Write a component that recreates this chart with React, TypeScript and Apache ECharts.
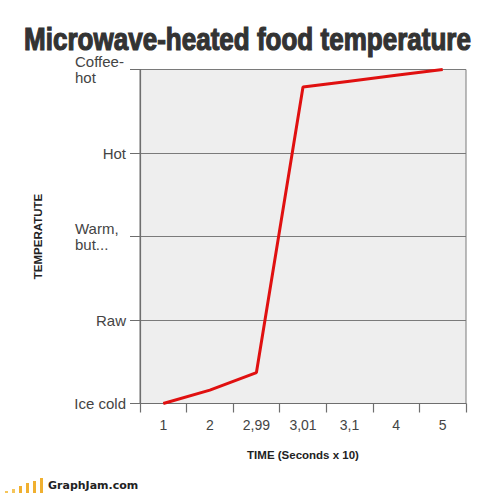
import React, { useEffect, useRef } from "react";
import * as echarts from "echarts";

const timeLabels = ["1", "2", "2,99", "3,01", "3,1", "4", "5"];
const tempLabels = ["Ice cold", "Raw", "Warm,\nbut...", "Hot", "Coffee-\nhot"];
const tempValues = [0, 0.16, 0.37, 3.79, 3.86, 3.93, 4.0];

const footerBars = [2, 4, 7, 10, 12, 15];

export default function App() {
  const ref = useRef<HTMLDivElement>(null);
  useEffect(() => {
    if (!ref.current) return;
    const chart = echarts.init(ref.current, null, { renderer: "svg" });
    const axisGray = "#6e6e6e";
    const textGray = "#444";
    const barGraphics: any[] = footerBars.map((h, i) => ({
      type: "rect",
      shape: { x: 5 + i * 7, y: 493 - h, width: 3, height: h },
      style: { fill: i < 2 ? "#f5c55a" : "#f0b030" },
    }));
    chart.setOption({
      animation: false,
      backgroundColor: "#ffffff",
      grid: {
        left: 140,
        right: 34,
        top: 69.5,
        bottom: 89.5,
        show: true,
        backgroundColor: "#eeeeee",
        borderColor: "#7a7a7a",
        borderWidth: 1,
      },
      xAxis: {
        type: "category",
        data: timeLabels,
        boundaryGap: true,
        name: "TIME (Seconds x 10)",
        nameLocation: "middle",
        nameGap: 45,
        nameTextStyle: {
          fontFamily: "'Liberation Sans', Arial, sans-serif",
          fontWeight: "bold",
          fontSize: 11.5,
          color: "#222",
        },
        axisLine: { show: true, lineStyle: { color: axisGray, width: 1.2 } },
        axisTick: { show: true, length: 9, lineStyle: { color: axisGray, width: 1.2 } },
        axisLabel: {
          margin: 14,
          fontFamily: "'Liberation Sans', Arial, sans-serif",
          fontSize: 14,
          color: textGray,
        },
        splitLine: { show: false },
      },
      yAxis: {
        type: "value",
        min: 0,
        max: 4,
        interval: 1,
        name: "TEMPERATUTE",
        nameLocation: "middle",
        nameGap: 96,
        nameRotate: 90,
        nameTextStyle: {
          fontFamily: "'Liberation Sans', Arial, sans-serif",
          fontWeight: "bold",
          fontSize: 11.5,
          color: "#222",
        },
        axisLine: { show: true, lineStyle: { color: axisGray, width: 1.2 } },
        axisTick: { show: true, length: 10, lineStyle: { color: axisGray, width: 1 } },
        splitLine: { show: true, lineStyle: { color: "#7a7a7a", width: 1 } },
        axisLabel: {
          margin: 14,
          fontFamily: "'Liberation Sans', Arial, sans-serif",
          fontSize: 15,
          color: textGray,
          formatter: (v: number) => {
            const s = tempLabels[Math.round(v)] || "";
            const lines = s.split("\n");
            if (lines.length > 1) return lines.map((l) => `{l|${l}}`).join("\n");
            return s;
          },
          rich: {
            l: {
              width: 51,
              align: "left",
              fontFamily: "'Liberation Sans', Arial, sans-serif",
              fontSize: 15,
              lineHeight: 16,
              color: textGray,
            },
          },
        },
      },
      series: [
        {
          type: "line",
          data: tempValues,
          symbol: "none",
          lineStyle: { color: "#e01010", width: 3 },
          z: 5,
        },
      ],
      graphic: [
        {
          type: "text",
          x: 247.5,
          y: 39,
          scaleX: 0.84,
          style: {
            text: "Microwave-heated food temperature",
            align: "center",
            verticalAlign: "middle",
            fontFamily: "'Liberation Sans', Arial, sans-serif",
            fontWeight: "bold",
            fontSize: 31,
            fill: "#333",
            stroke: "#333",
            lineWidth: 1.2,
          },
        },
        ...barGraphics,
        {
          type: "text",
          left: 48,
          top: 480,
          style: {
            text: "GraphJam.com",
            fontFamily: "'DejaVu Sans', Verdana, sans-serif",
            fontWeight: "bold",
            fontSize: 11,
            fill: "#222",
          },
        },
      ],
    });
    return () => chart.dispose();
  }, []);
  return (
    <div
      ref={ref}
      style={{ position: "absolute", left: 0, top: 0, width: 500, height: 493 }}
    />
  );
}
